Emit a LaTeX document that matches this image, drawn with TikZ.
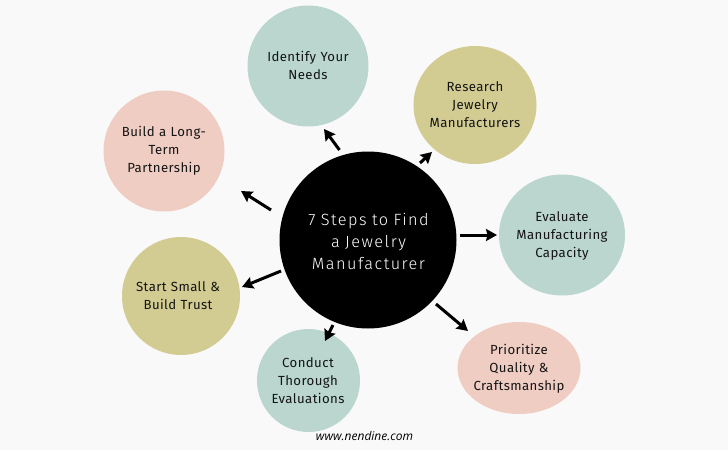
\documentclass[tikz,border=0pt]{standalone}
\usepackage{fontspec}
\setmainfont{Fira Sans}[LetterSpace=3]
\newfontfamily\centerfont{Fira Sans Light}[LetterSpace=9]
\newfontfamily\urlfont{Open Sans}
\usetikzlibrary{arrows.meta}
\definecolor{bgc}{HTML}{F9F9F9}
\definecolor{teal}{HTML}{BAD6CF}
\definecolor{olive}{HTML}{D2CB92}
\definecolor{pinkc}{HTML}{EFCDC3}
\tikzset{
 x=1pt,y=-1pt,
 bubble/.style={inner sep=0pt,align=center,font=\fontsize{13.2}{18}\selectfont,text=black!92,text width=120pt},
 arr/.style={line width=3pt,-{Stealth[length=11pt,width=12pt,inset=1.5pt]},black}
}
\begin{document}
\begin{tikzpicture}
\useasboundingbox (0,0) rectangle (728,450);
\fill[bgc] (0,0) rectangle (728,450);
\fill[teal] (308,66) ellipse [x radius=60.5,y radius=60.5];
\fill[olive] (475,105) ellipse [x radius=61.5,y radius=59];
\fill[teal] (562,235) ellipse [x radius=63,y radius=60.5];
\fill[pinkc] (519,368) ellipse [x radius=61.5,y radius=46];
\fill[teal] (308.5,380.5) ellipse [x radius=51.5,y radius=51.5];
\fill[olive] (181,296) ellipse [x radius=59,y radius=59];
\fill[pinkc] (164,151) ellipse [x radius=60.5,y radius=60.5];
\fill[black] (368,240) circle [radius=88.5];
\node[bubble] (n1) at (308,65.5) {Identify Your\\Needs};
\node[bubble] (n2) at (475,104.5) {Research\\Jewelry\\Manufacturers};
\node[bubble] (n3) at (562,236) {Evaluate\\Manufacturing\\Capacity};
\node[bubble] (n4) at (519,368.5) {Prioritize\\Quality \&\\Craftsmanship};
\node[bubble] (n5) at (308,380.5) {Conduct\\Thorough\\Evaluations};
\node[bubble] (n6) at (178,296) {Start Small \&\\Build Trust};
\node[bubble] (n7) at (164,150.5) {Build a Long-\\Term\\Partnership};
\node[inner sep=0pt,align=center,text=white,font=\centerfont\fontsize{16.3}{22}\selectfont,text width=170pt] (c) at (368.5,241) {7 Steps to Find\\a Jewelry\\Manufacturer};
\node[inner sep=0pt,font=\urlfont\itshape\fontsize{12}{14}\selectfont] (u) at (364.5,436.5) {www.nendine.com};
\coordinate (a1s) at (339.5,150); \coordinate (a1e) at (324,129);
\coordinate (a2s) at (420,163); \coordinate (a2e) at (432,152);
\coordinate (a3s) at (460,235); \coordinate (a3e) at (497,235);
\coordinate (a4s) at (436,304); \coordinate (a4e) at (468,331);
\coordinate (a5s) at (333,325); \coordinate (a5e) at (325,341);
\coordinate (a6s) at (281,271); \coordinate (a6e) at (242,287);
\coordinate (a7s) at (271,210); \coordinate (a7e) at (241,191);
\draw[arr] (a1s) -- (a1e);
\draw[arr] (a2s) -- (a2e);
\draw[arr] (a3s) -- (a3e);
\draw[arr] (a4s) -- (a4e);
\draw[arr] (a5s) -- (a5e);
\draw[arr] (a6s) -- (a6e);
\draw[arr] (a7s) -- (a7e);
\end{tikzpicture}
\end{document}
